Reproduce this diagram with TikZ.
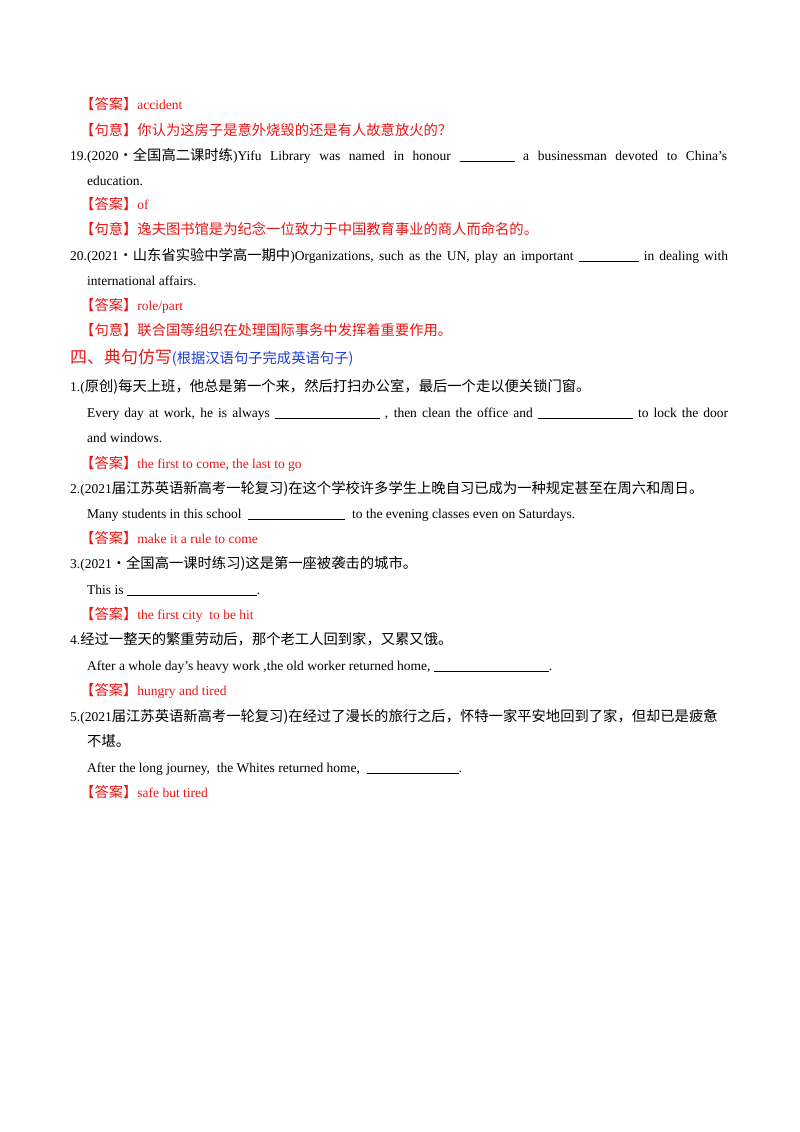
\documentclass[tikz,border=0pt]{standalone}
\usepackage{fontspec}
\setmainfont{Liberation Serif}
\newfontfamily\cjk[Scale=1.06]{Noto Sans CJK SC}
\definecolor{ansred}{RGB}{235,20,20}
\definecolor{hdblue}{RGB}{30,60,220}
\newcommand{\blank}[1]{\underline{\hspace{#1pt}}}
\newcommand{\da}{{\cjk 【答案】}}
\newcommand{\jy}{{\cjk 【句意】}}
\begin{document}
\begin{tikzpicture}[x=1pt,y=-1pt,
  txt/.style={anchor=base west,inner sep=0pt,font=\fontsize{13.5}{16}\selectfont},
  red/.style={txt,text=ansred},
  just/.style={txt,text width=#1pt,align=justify,execute at begin node={\parfillskip=0pt}}]
\useasboundingbox (0,0) rectangle (800,1132);
\node[red] (a1) at (80,109) {\da accident};
\node[red] (a2) at (80,135) {\jy{\cjk 你认为这房子是意外烧毁的还是有人故意放火的？}};
\node[just=657] (q19) at (70,160) {19.(2020{\cjk ·全国高二课时练})Yifu Library was named in honour \blank{55} a businessman devoted to China’s};
\node[txt] (q19b) at (87,185) {education.};
\node[red] (a3) at (80,209) {\da of};
\node[red] (a4) at (80,234) {\jy{\cjk 逸夫图书馆是为纪念一位致力于中国教育事业的商人而命名的。}};
\node[just=658] (q20) at (70,260) {20.(2021{\cjk ·山东省实验中学高一期中})Organizations, such as the UN, play an important \blank{60} in dealing with};
\node[txt] (q20b) at (87,285) {international affairs.};
\node[red] (a5) at (80,310) {\da role/part};
\node[red] (a6) at (80,335) {\jy{\cjk 联合国等组织在处理国际事务中发挥着重要作用。}};
\node[txt,text=ansred,font=\fontsize{16}{18}\selectfont] (h) at (70,363) {\cjk 四、典句仿写{\color{hdblue}\fontsize{13.5}{16}\selectfont (根据汉语句子完成英语句子)}};
\node[txt] (s1) at (70,391) {1.({\cjk 原创)每天上班，他总是第一个来，然后打扫办公室，最后一个走以便关锁门窗。}};
\node[just=641] (s1b) at (87,417) {Every day at work, he is always \blank{105} , then clean the office and \blank{95} to lock the door};
\node[txt] (s1c) at (87,442) {and windows.};
\node[red] (s1a) at (80,468) {\da the first to come, the last to go};
\node[txt] (s2) at (70,493) {2.(2021{\cjk 届江苏英语新高考一轮复习)在这个学校许多学生上晚自习已成为一种规定甚至在周六和周日。}};
\node[txt] (s2b) at (87,518) {Many students in this school \ \blank{97} \ to the evening classes even on Saturdays.};
\node[red] (s2a) at (80,543) {\da make it a rule to come};
\node[txt] (s3) at (70,568) {3.(2021{\cjk ·全国高一课时练习)这是第一座被袭击的城市。}};
\node[txt] (s3b) at (87,594) {This is \blank{130}.};
\node[red] (s3a) at (80,619) {\da the first city \ to be hit};
\node[txt] (s4) at (70,644) {4.{\cjk 经过一整天的繁重劳动后，那个老工人回到家，又累又饿。}};
\node[txt] (s4b) at (87,670) {After a whole day’s heavy work ,the old worker returned home, \blank{115}.};
\node[red] (s4a) at (80,695) {\da hungry and tired};
\node[txt] (s5) at (70,721) {5.(2021{\cjk 届江苏英语新高考一轮复习)在经过了漫长的旅行之后，怀特一家平安地回到了家，但却已是疲惫}};
\node[txt] (s5b) at (87,746) {\cjk 不堪。};
\node[txt] (s5c) at (87,772) {After the long journey, \ the Whites returned home, \ \blank{92}.};
\node[red] (s5a) at (80,797) {\da safe but tired};
\end{tikzpicture}
\end{document}
